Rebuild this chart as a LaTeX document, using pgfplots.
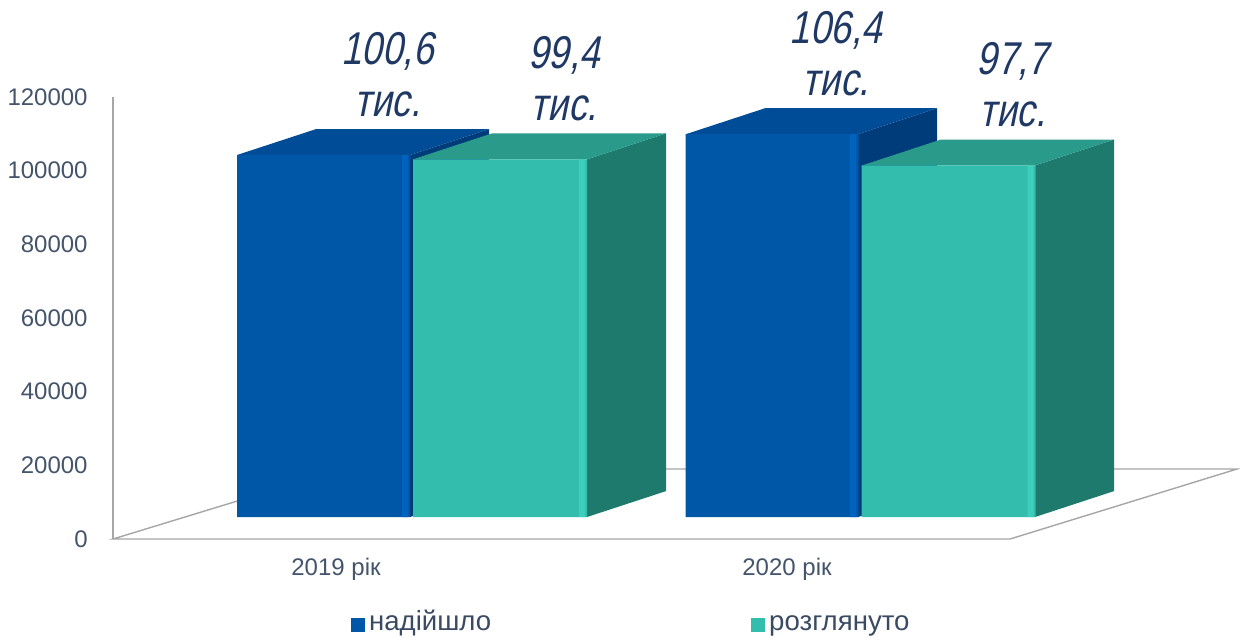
\documentclass[border=0pt]{standalone}
\usepackage{pgfplots}
\pgfplotsset{compat=1.18}
\usepackage{fontspec}
\setmainfont{Liberation Sans}
\newfontfamily\labelfont[FakeStretch=0.8, FakeSlant=0.2]{Liberation Sans}
\definecolor{tickcol}{HTML}{44546A}
\definecolor{legcol}{HTML}{3A4A63}
\definecolor{labcol}{HTML}{1F3864}
\definecolor{bluefront}{HTML}{0057A8}
\definecolor{bluelight}{HTML}{0063BF}
\definecolor{bluetop}{HTML}{004C96}
\definecolor{blueside}{HTML}{003C7A}
\definecolor{tealfront}{HTML}{33BDAD}
\definecolor{teallight}{HTML}{3DCEBD}
\definecolor{tealtop}{HTML}{2A9A8B}
\definecolor{tealside}{HTML}{1F7A6E}
\definecolor{floorcol}{HTML}{A6A6A6}
\begin{document}
\begin{tikzpicture}
\path[use as bounding box] (0,0) rectangle (620pt,319.5pt);
% ---- front frame: value axis, floor, categories, legend
\begin{axis}[
  at={(56.5pt,50pt)}, anchor=south west,
  scale only axis, width=562pt, height=221pt,
  xmin=113, xmax=1237, ymin=0, ymax=120000,
  clip=false,
  axis x line*=bottom, axis y line*=left,
  x axis line style={draw=none},
  y axis line style={draw=floorcol, line width=0.7pt, -},
  xtick={336,787}, xticklabels={2019 рік, 2020 рік},
  ytick={0,20000,...,120000},
  major tick length=0pt,
  tick style={draw=none},
  scaled y ticks=false,
  /pgf/number format/fixed,
  /pgf/number format/1000 sep={},
  /pgf/number format/assume math mode=true,
  yticklabel style={font=\fontsize{12}{14}\selectfont, text=tickcol, anchor=east, inner sep=0pt, xshift=-12.5pt},
  xticklabel style={font=\fontsize{12}{14}\selectfont, text=tickcol, anchor=base, inner sep=0pt, yshift=-18pt},
  legend style={at={(axis description cs:0.462,-0.195)}, anchor=center, draw=none, fill=none,
    legend columns=2, font=\fontsize{13.8}{16}\selectfont, text=legcol,
    nodes={text height=0.72em, text depth=0.22em},
    /tikz/every even column/.append style={column sep=128pt}},
  legend image code/.code={\fill[#1] (0pt,-3.5pt) rectangle (7pt,3.5pt);},
]
\addplot[floorcol, line width=0.7pt, forget plot] coordinates {(342,19000) (113,0) (1010,0) (1237,19000) (342,19000)};
\addlegendimage{fill=bluefront, draw=none}
\addlegendentry{надійшло}
\addlegendimage{fill=tealfront, draw=none}
\addlegendentry{розглянуто}
\end{axis}
% ---- bars (drawn in the middle depth plane)
\begin{axis}[
  at={(56.5pt,61pt)}, anchor=south west,
  scale only axis, width=562pt, height=215.9pt,
  xmin=113, xmax=1237, ymin=0, ymax=120000,
  clip=false, axis lines=none,
  nodes near coords style={font=\labelfont\fontsize{23}{26}\selectfont, text=labcol, align=center, anchor=south, inner sep=0pt, xshift=32pt, yshift=19pt},
]
% blue side and top faces
\addplot[fill=blueside, draw=none] coordinates {(410,0) (489,7200) (489,107800) (410,100600)};
\addplot[fill=bluetop, draw=none] coordinates {(237,100600) (410,100600) (489,107800) (316,107800)};
\addplot[fill=blueside, draw=none] coordinates {(858,0) (937,7200) (937,113600) (858,106400)};
\addplot[fill=bluetop, draw=none] coordinates {(686,106400) (858,106400) (937,113600) (765,113600)};
% blue fronts
\addplot[ybar, bar width=173, bar shift=0pt, fill=bluefront, draw=none,
  point meta=explicit symbolic, nodes near coords={\pgfplotspointmeta\\тис.}]
  coordinates {(323.5,100600) [100,6] (772,106400) [106,4]};
\addplot[ybar, bar width=6, bar shift=0pt, fill=bluelight, draw=none]
  coordinates {(405,100600) (853,106400)};
% teal side and top faces
\addplot[fill=tealside, draw=none] coordinates {(587,0) (666,7200) (666,106600) (587,99400)};
\addplot[fill=tealtop, draw=none] coordinates {(413,99400) (587,99400) (666,106600) (492,106600)};
\addplot[fill=tealside, draw=none] coordinates {(1035,0) (1114,7200) (1114,104900) (1035,97700)};
\addplot[fill=tealtop, draw=none] coordinates {(862,97700) (1035,97700) (1114,104900) (941,104900)};
% teal fronts
\addplot[ybar, bar width=174, bar shift=0pt, fill=tealfront, draw=none,
  point meta=explicit symbolic, nodes near coords={\pgfplotspointmeta\\тис.}]
  coordinates {(500,99400) [99,4] (948.5,97700) [97,7]};
\addplot[ybar, bar width=6, bar shift=0pt, fill=teallight, draw=none]
  coordinates {(582,99400) (1030.5,97700)};
\end{axis}
\end{tikzpicture}
\end{document}
